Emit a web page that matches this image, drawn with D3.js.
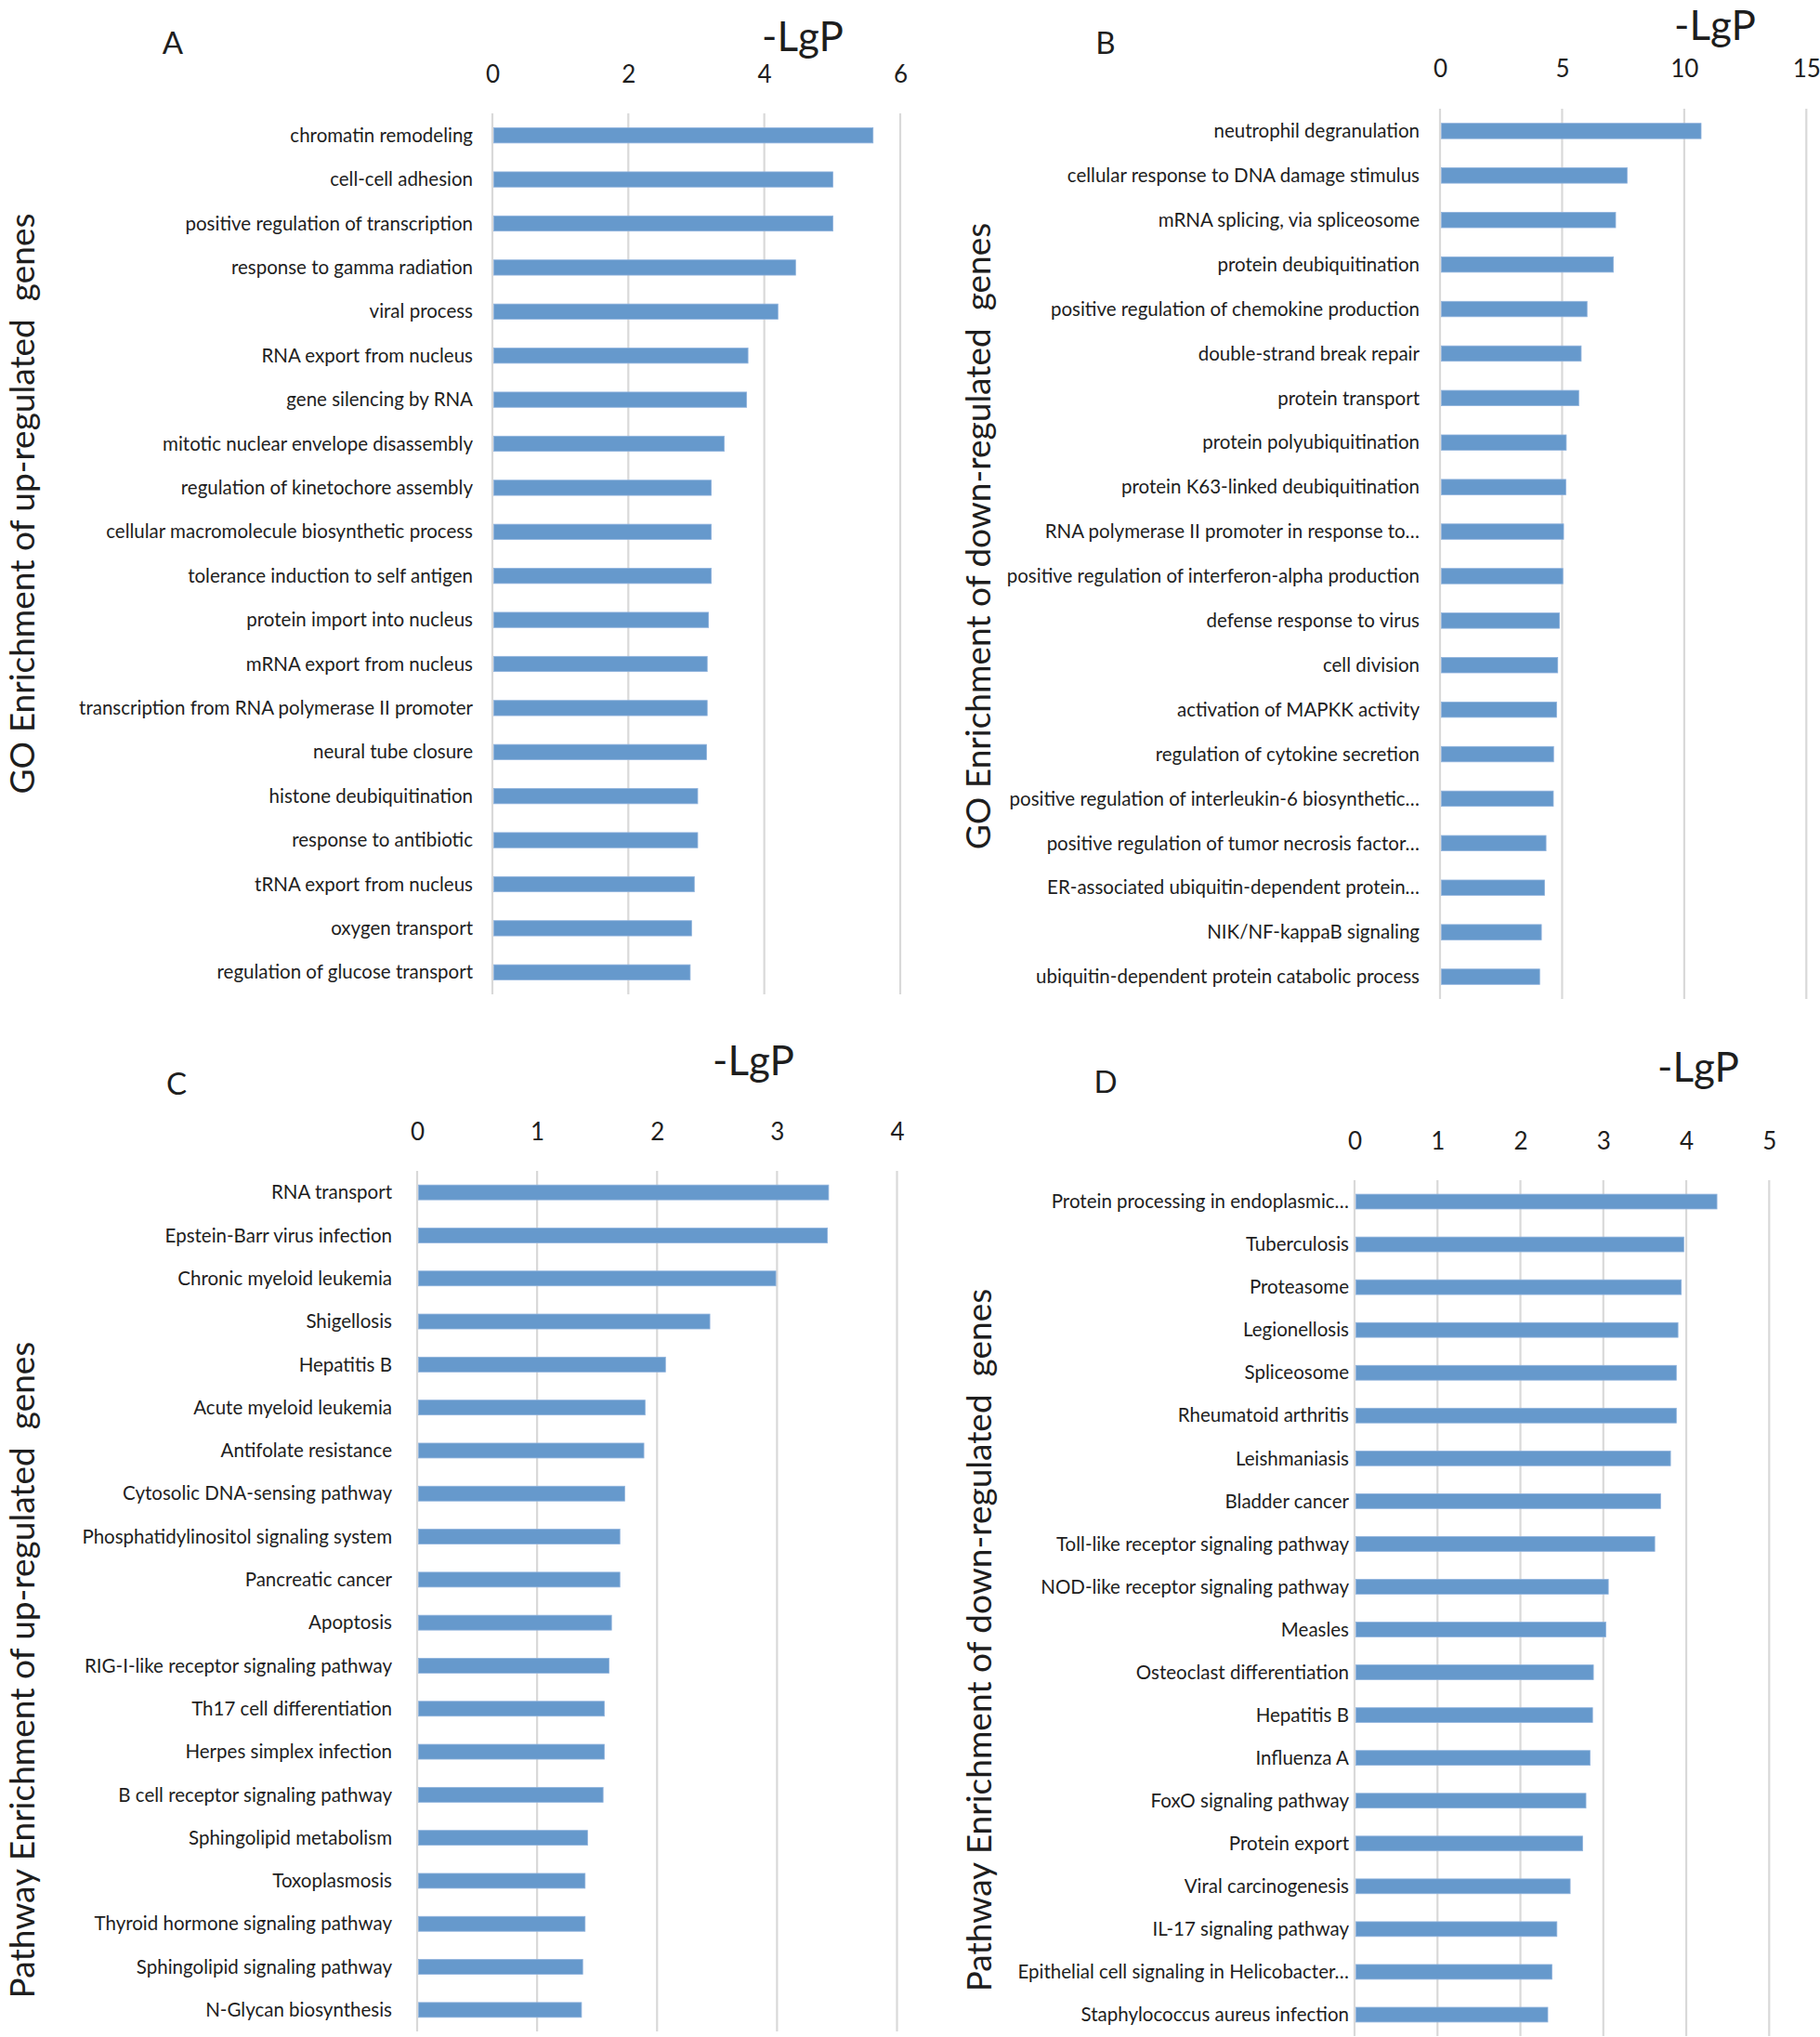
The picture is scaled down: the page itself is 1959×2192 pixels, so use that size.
<!DOCTYPE html>
<html>
<head>
<meta charset="utf-8">
<script src="https://cdn.jsdelivr.net/npm/d3@7"></script>
<style>
  body { margin: 0; background: #ffffff; }
  svg { display: block; font-family: Lato, "Open Sans", "DejaVu Sans", sans-serif; }
</style>
</head>
<body>
<svg id="chart" width="1959" height="2192"></svg>
<script>
// ---------------- DATA ----------------
const categoriesA = [
  "chromatin remodeling", "cell-cell adhesion", "positive regulation of transcription",
  "response to gamma radiation", "viral process", "RNA export from nucleus",
  "gene silencing by RNA", "mitotic nuclear envelope disassembly",
  "regulation of kinetochore assembly", "cellular macromolecule biosynthetic process",
  "tolerance induction to self antigen", "protein import into nucleus",
  "mRNA export from nucleus", "transcription from RNA polymerase II promoter",
  "neural tube closure", "histone deubiquitination", "response to antibiotic",
  "tRNA export from nucleus", "oxygen transport", "regulation of glucose transport"
];
const valuesA = [5.60, 5.01, 5.01, 4.46, 4.20, 3.76, 3.74, 3.41, 3.22, 3.22,
                 3.22, 3.18, 3.16, 3.16, 3.15, 3.02, 3.02, 2.97, 2.93, 2.91];
const ticksA = [0, 2, 4, 6];

const categoriesB = [
  "neutrophil degranulation", "cellular response to DNA damage stimulus",
  "mRNA splicing, via spliceosome", "protein deubiquitination",
  "positive regulation of chemokine production", "double-strand break repair",
  "protein transport", "protein polyubiquitination", "protein K63-linked deubiquitination",
  "RNA polymerase II promoter in response to…",
  "positive regulation of interferon-alpha production", "defense response to virus",
  "cell division", "activation of MAPKK activity", "regulation of cytokine secretion",
  "positive regulation of interleukin-6 biosynthetic…",
  "positive regulation of tumor necrosis factor…",
  "ER-associated ubiquitin-dependent protein…", "NIK/NF-kappaB signaling",
  "ubiquitin-dependent protein catabolic process"
];
const valuesB = [10.69, 7.66, 7.19, 7.10, 6.02, 5.78, 5.68, 5.17, 5.15, 5.06,
                 5.03, 4.89, 4.82, 4.77, 4.65, 4.64, 4.34, 4.28, 4.15, 4.08];
const ticksB = [0, 5, 10, 15];

const categoriesC = [
  "RNA transport", "Epstein-Barr virus infection", "Chronic myeloid leukemia",
  "Shigellosis", "Hepatitis B", "Acute myeloid leukemia", "Antifolate resistance",
  "Cytosolic DNA-sensing pathway", "Phosphatidylinositol signaling system",
  "Pancreatic cancer", "Apoptosis", "RIG-I-like receptor signaling pathway",
  "Th17 cell differentiation", "Herpes simplex infection",
  "B cell receptor signaling pathway", "Sphingolipid metabolism", "Toxoplasmosis",
  "Thyroid hormone signaling pathway", "Sphingolipid signaling pathway",
  "N-Glycan biosynthesis"
];
const valuesC = [3.43, 3.42, 2.99, 2.44, 2.07, 1.90, 1.89, 1.73, 1.69, 1.69,
                 1.62, 1.60, 1.56, 1.56, 1.55, 1.42, 1.40, 1.40, 1.38, 1.37];
const ticksC = [0, 1, 2, 3, 4];

const categoriesD = [
  "Protein processing in endoplasmic…", "Tuberculosis", "Proteasome", "Legionellosis",
  "Spliceosome", "Rheumatoid arthritis", "Leishmaniasis", "Bladder cancer",
  "Toll-like receptor signaling pathway", "NOD-like receptor signaling pathway",
  "Measles", "Osteoclast differentiation", "Hepatitis B", "Influenza A",
  "FoxO signaling pathway", "Protein export", "Viral carcinogenesis",
  "IL-17 signaling pathway", "Epithelial cell signaling in Helicobacter…",
  "Staphylococcus aureus infection"
];
const valuesD = [4.37, 3.97, 3.94, 3.90, 3.88, 3.88, 3.81, 3.69, 3.62, 3.06,
                 3.03, 2.88, 2.87, 2.84, 2.79, 2.75, 2.60, 2.44, 2.38, 2.33];
const ticksD = [0, 1, 2, 3, 4, 5];

const panelLetters = ["A", "B", "C", "D"];
const axisTitle = "-LgP";
const yTitles = [
  "GO Enrichment of up-regulated  genes",
  "GO Enrichment of down-regulated  genes",
  "Pathway Enrichment of up-regulated  genes",
  "Pathway Enrichment of down-regulated  genes"
];

// ---------------- LAYOUT ----------------
const layout = [
  { x0: 530,  x1: 969,    y0: 122,  y1: 1070, labelPad: 21, tickY: 80,   letter: [186, 45],   lgp: [864, 38],   ytBase: [36.6, 542] },
  { x0: 1550, x1: 1944.3, y0: 117,  y1: 1075, labelPad: 22, tickY: 74,   letter: [1190, 45],  lgp: [1846, 26],  ytBase: [1066.3, 577] },
  { x0: 449,  x1: 965.5,  y0: 1260, y1: 2186, labelPad: 27, tickY: 1218, letter: [190, 1165], lgp: [811, 1140], ytBase: [36.6, 1797] },
  { x0: 1458, x1: 1904.3, y0: 1270, y1: 2191, labelPad: 6,  tickY: 1228, letter: [1190, 1163],lgp: [1828, 1147],ytBase: [1067.3, 1765] }
];

const data = [
  { cats: categoriesA, vals: valuesA, ticks: ticksA },
  { cats: categoriesB, vals: valuesB, ticks: ticksB },
  { cats: categoriesC, vals: valuesC, ticks: ticksC },
  { cats: categoriesD, vals: valuesD, ticks: ticksD }
];

const svg = d3.select("#chart");
svg.append("rect").attr("width", 1959).attr("height", 2192).attr("fill", "#ffffff");

const textColor = "#1e1e1e";
const barColor = "#6699cc";
const gridColor = "#d9d9d9";

data.forEach((d, i) => {
  const L = layout[i];
  const g = svg.append("g");
  const maxT = d.ticks[d.ticks.length - 1];
  const x = d3.scaleLinear().domain([0, maxT]).range([L.x0, L.x1]);
  const y = d3.scaleBand().domain(d.cats).range([L.y0, L.y1])
    .paddingInner(0.655).paddingOuter(0.3275);

  // gridlines
  g.append("g").selectAll("line").data(d.ticks).join("line")
    .attr("x1", t => x(t)).attr("x2", t => x(t))
    .attr("y1", L.y0).attr("y2", L.y1)
    .attr("stroke", gridColor).attr("stroke-width", 2.2);

  // bars
  g.append("g").selectAll("rect").data(d.cats).join("rect")
    .attr("x", x(0) + 1.5)
    .attr("y", c => y(c))
    .attr("width", (c, j) => x(d.vals[j]) - x(0) - 1.5)
    .attr("height", y.bandwidth())
    .attr("fill", barColor)
    .attr("stroke", "#8fb2dc").attr("stroke-width", 0.8);

  // top axis tick labels
  const ax = g.append("g").attr("transform", `translate(0,${L.tickY})`)
    .call(d3.axisTop(x).tickValues(d.ticks).tickSize(0).tickPadding(0).tickFormat(d3.format("d")));
  ax.select(".domain").remove();
  ax.selectAll("text").attr("dy", "0.36em").attr("font-size", 26)
    .attr("font-family", "Lato, sans-serif").attr("fill", textColor);

  // category labels
  const ay = g.append("g").attr("transform", `translate(${L.x0},0)`)
    .call(d3.axisLeft(y).tickSize(0).tickPadding(L.labelPad));
  ay.select(".domain").remove();
  ay.selectAll("text").attr("font-size", 20.5).attr("dy", "0.35em")
    .attr("font-family", "Lato, sans-serif").attr("fill", textColor);

  // panel letter
  g.append("text").attr("x", L.letter[0]).attr("y", L.letter[1])
    .attr("text-anchor", "middle").attr("dominant-baseline", "central")
    .attr("font-size", 33).attr("fill", textColor).text(panelLetters[i]);

  // -LgP
  g.append("text").attr("x", L.lgp[0]).attr("y", L.lgp[1])
    .attr("text-anchor", "middle").attr("dominant-baseline", "central")
    .attr("font-size", 44).attr("fill", textColor).text(axisTitle);

  // rotated y title (baseline positioned)
  g.append("text")
    .attr("transform", `translate(${L.ytBase[0]},${L.ytBase[1]}) rotate(-90)`)
    .attr("text-anchor", "middle")
    .attr("font-size", 37).attr("fill", textColor)
    .style("white-space", "pre").attr("xml:space", "preserve")
    .text(yTitles[i]);
});
</script>
</body>
</html>
